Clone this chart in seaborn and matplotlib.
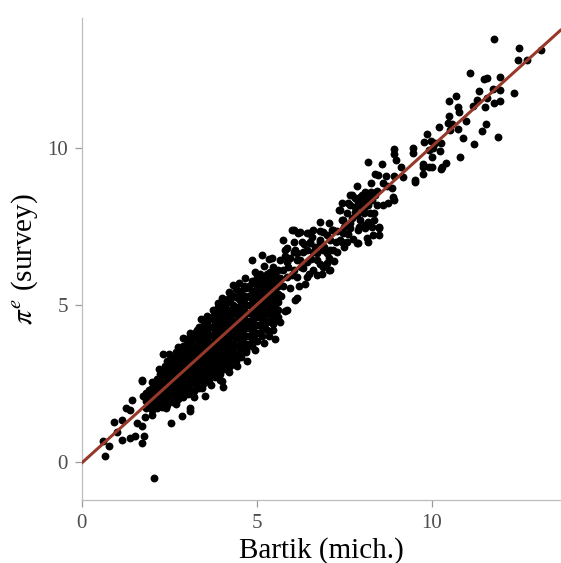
import matplotlib
matplotlib.use("Agg")
import matplotlib.pyplot as plt
import pandas as pd
import seaborn as sns

# points (x = Bartik, y = survey)
low_pts = [
    (2.06, -0.51), (0.67, 0.17), (0.60, 0.65), (0.79, 0.49), (1.16, 0.68), (1.38, 0.77),
    (1.53, 0.83), (1.79, 0.81), (1.73, 0.61), (0.93, 1.27), (1.16, 1.34), (1.00, 0.96),
    (1.59, 1.23), (1.72, 1.15), (1.81, 1.42), (1.27, 1.71), (1.38, 1.66), (1.43, 1.97),
    (1.72, 2.56), (1.76, 2.10), (1.93, 2.19), (1.98, 1.76), (2.10, 1.87), (1.71, 2.61),
    (2.54, 1.25), (2.86, 1.47), (3.08, 1.62), (3.09, 1.70), (3.53, 2.11), (4.02, 2.56),
    (3.95, 2.61), (4.05, 2.39), (2.33, 3.44), (2.76, 3.67), (2.53, 3.14), (2.14, 2.61),
]

edge_pts = [
    (4.73, 3.22), (4.70, 3.57), (5.53, 3.91), (5.67, 4.45), (5.81, 4.82), (6.10, 5.16),
    (6.38, 5.67), (3.27, 4.15), (3.59, 4.63), (4.00, 5.21), (4.33, 5.64), (4.09, 5.16),
    (3.29, 4.20), (3.52, 4.47), (5.86, 4.84), (5.57, 4.52), (5.47, 4.20), (6.14, 5.21),
    # ragged rim of the core
    (2.20, 2.95), (2.50, 3.45), (2.90, 3.95), (3.10, 4.10), (3.40, 4.55), (3.75, 4.85),
    (3.90, 5.05), (4.20, 5.40), (4.50, 5.70), (4.65, 5.85), (4.95, 6.05), (5.20, 6.25),
    (5.35, 6.45), (2.40, 1.70), (2.70, 1.85), (3.20, 2.05), (3.45, 2.35), (3.70, 2.45),
    (4.20, 2.85), (4.45, 3.05), (4.95, 3.55), (5.20, 3.80), (5.35, 4.00), (2.00, 1.50),
]

# dense core, read column by column (two interleaved passes)
core_x = [1.85, 2.0, 2.15, 2.3, 2.45, 2.6, 2.75, 2.9, 3.05, 3.2, 3.35, 3.5, 3.65,
          3.8, 3.95, 4.1, 4.25, 4.4, 4.55, 4.7, 4.85, 5.0, 5.15, 5.3, 5.45, 5.6]
core_y = [
    [1.7, 1.95, 2.2],
    [1.65, 1.9, 2.1, 2.35, 2.55],
    [1.7, 1.95, 2.2, 2.4, 2.65],
    [1.75, 1.95, 2.2, 2.45, 2.65, 2.9],
    [1.8, 2.05, 2.3, 2.5, 2.75, 3.0, 3.2],
    [1.9, 2.15, 2.35, 2.6, 2.85, 3.05, 3.3],
    [2.0, 2.25, 2.5, 2.7, 2.95, 3.2, 3.45],
    [2.05, 2.3, 2.55, 2.8, 3.05, 3.25, 3.5, 3.7],
    [2.15, 2.4, 2.65, 2.9, 3.1, 3.35, 3.6, 3.85],
    [2.25, 2.5, 2.75, 3.0, 3.25, 3.5, 3.7, 3.95],
    [2.35, 2.6, 2.85, 3.1, 3.35, 3.55, 3.8, 4.05, 4.3],
    [2.5, 2.75, 2.95, 3.2, 3.45, 3.7, 3.95, 4.2, 4.45],
    [2.6, 2.85, 3.1, 3.35, 3.55, 3.8, 4.05, 4.3, 4.55],
    [2.7, 2.95, 3.2, 3.45, 3.7, 3.95, 4.2, 4.45, 4.75],
    [2.8, 3.05, 3.3, 3.55, 3.8, 4.05, 4.3, 4.55, 4.85],
    [2.95, 3.2, 3.45, 3.7, 3.95, 4.2, 4.45, 4.7, 5.0],
    [3.05, 3.3, 3.55, 3.8, 4.05, 4.3, 4.55, 4.8, 5.1, 5.35],
    [3.2, 3.45, 3.7, 3.95, 4.2, 4.45, 4.7, 4.95, 5.25, 5.5],
    [3.35, 3.6, 3.85, 4.1, 4.35, 4.6, 4.85, 5.1, 5.4],
    [3.5, 3.75, 4.0, 4.25, 4.5, 4.75, 5.0, 5.25, 5.55],
    [3.7, 3.95, 4.2, 4.45, 4.7, 4.95, 5.2, 5.45, 5.75],
    [3.85, 4.1, 4.35, 4.6, 4.85, 5.1, 5.35, 5.6, 5.9],
    [4.0, 4.3, 4.55, 4.8, 5.05, 5.3, 5.55, 5.85],
    [4.2, 4.45, 4.7, 4.95, 5.2, 5.45, 5.7, 6.0],
    [4.4, 4.65, 4.9, 5.15, 5.4, 5.65, 5.9, 6.2],
    [4.6, 4.85, 5.1, 5.35, 5.6, 5.85, 6.1],
]

core2_x = [1.93, 2.08, 2.23, 2.38, 2.53, 2.68, 2.83, 2.98, 3.13, 3.28, 3.43, 3.58, 3.73,
           3.88, 4.03, 4.18, 4.33, 4.48, 4.63, 4.78, 4.93, 5.08, 5.23, 5.38, 5.53]
core2_y = [
    [1.8, 2.05, 2.3],
    [1.75, 2.0, 2.25, 2.5],
    [1.85, 2.1, 2.3, 2.55, 2.8],
    [1.9, 2.1, 2.35, 2.6, 2.85, 3.05],
    [1.95, 2.2, 2.45, 2.65, 2.9, 3.15],
    [2.05, 2.3, 2.5, 2.75, 3.0, 3.25, 3.5],
    [2.15, 2.4, 2.6, 2.85, 3.1, 3.35, 3.6],
    [2.2, 2.45, 2.7, 2.95, 3.2, 3.45, 3.65, 3.9],
    [2.3, 2.55, 2.8, 3.05, 3.3, 3.5, 3.75, 4.0],
    [2.4, 2.65, 2.9, 3.15, 3.4, 3.65, 3.9, 4.15],
    [2.6, 2.8, 3.05, 3.3, 3.55, 3.8, 4.05, 4.3],
    [2.65, 2.9, 3.15, 3.4, 3.65, 3.9, 4.15, 4.4, 4.65],
    [2.8, 3.05, 3.3, 3.55, 3.8, 4.05, 4.3, 4.6],
    [2.9, 3.15, 3.4, 3.65, 3.9, 4.15, 4.4, 4.65, 4.95],
    [3.05, 3.3, 3.55, 3.8, 4.05, 4.3, 4.55, 4.8, 5.1],
    [3.1, 3.35, 3.6, 3.85, 4.1, 4.35, 4.6, 4.85, 5.2],
    [3.25, 3.5, 3.75, 4.0, 4.25, 4.5, 4.75, 5.0, 5.3],
    [3.4, 3.65, 3.9, 4.15, 4.4, 4.65, 4.9, 5.2, 5.45],
    [3.55, 3.8, 4.05, 4.3, 4.55, 4.8, 5.05, 5.3, 5.6],
    [3.75, 4.0, 4.25, 4.5, 4.75, 5.0, 5.3, 5.6],
    [3.9, 4.15, 4.4, 4.65, 4.9, 5.15, 5.4, 5.7],
    [4.1, 4.35, 4.6, 4.9, 5.15, 5.4, 5.7, 6.0],
    [4.25, 4.5, 4.75, 5.0, 5.3, 5.55, 5.85],
    [4.5, 4.75, 5.0, 5.25, 5.5, 5.8, 6.05],
    [4.7, 4.95, 5.2, 5.45, 5.75, 6.0],
]

mid_pts = [
    (9.51, 8.93), (7.86, 8.79), (8.26, 8.89), (8.10, 8.61), (8.27, 8.61), (8.43, 8.63),
    (8.62, 8.88), (8.71, 8.78), (8.86, 8.72), (8.88, 8.45), (8.91, 8.34), (7.67, 8.50),
    (7.81, 8.40), (7.95, 8.45), (8.10, 8.34), (8.24, 8.45), (7.43, 8.24), (7.62, 8.24),
    (7.81, 8.13), (8.00, 8.13), (8.19, 8.18), (8.62, 8.18), (8.76, 8.26), (7.35, 8.03),
    (7.57, 7.92), (7.86, 7.87), (8.05, 7.92), (8.34, 7.92), (8.34, 7.71), (6.81, 7.65),
    (7.05, 7.62), (7.43, 7.71), (7.48, 7.50), (7.67, 7.60), (7.91, 7.50), (8.10, 7.55),
    (8.48, 7.50), (6.00, 7.39), (6.17, 7.30), (6.48, 7.30), (6.57, 7.18), (6.81, 7.35),
    (7.00, 7.23), (7.14, 7.39), (7.29, 7.35), (5.76, 7.07), (6.29, 7.02), (6.53, 6.96),
    (6.81, 7.02), (6.91, 6.86), (7.38, 7.07), (7.57, 7.02), (7.86, 6.96), (8.14, 7.12),
    (8.19, 7.02), (8.48, 7.23), (8.48, 7.44), (5.86, 6.80), (6.10, 6.75), (6.43, 6.75),
    (6.71, 6.65), (7.00, 6.65), (7.10, 6.75), (4.86, 6.43), (5.14, 6.59), (5.43, 6.49),
    (5.67, 6.43), (5.95, 6.49), (6.24, 6.43), (6.43, 6.38), (6.71, 6.43), (7.05, 6.11),
    (7.71, 8.51), (8.00, 8.51), (8.14, 8.56), (8.38, 8.51), (7.67, 8.19), (7.90, 8.29),
    (8.09, 8.24), (8.29, 8.35), (8.43, 8.19), (7.38, 8.02), (7.81, 7.97), (8.05, 8.08),
    (8.24, 7.92), (7.47, 7.71), (7.71, 7.76), (7.95, 7.71), (8.19, 7.66), (6.05, 7.39),
    (6.24, 7.34), (6.43, 7.29), (6.62, 7.39), (6.90, 7.34), (7.19, 7.39), (7.47, 7.29),
    (7.67, 7.44), (7.90, 7.39), (8.09, 7.44), (8.29, 7.50), (8.33, 7.23), (6.05, 7.02),
    (6.52, 7.02), (6.81, 7.07), (7.09, 7.07), (7.43, 7.02), (7.90, 6.97), (5.81, 6.75),
    (6.05, 6.70), (6.33, 6.70), (6.62, 6.70), (6.90, 6.75), (7.19, 6.75), (5.86, 6.38),
    (6.14, 6.43), (7.05, 6.49), (5.76, 6.11), (6.05, 6.11), (6.33, 6.17), (6.62, 6.11),
    (6.90, 6.22), (7.09, 6.11), (5.86, 5.90), (6.14, 5.90), (6.43, 5.90), (6.71, 5.96),
    (5.70, 5.30), (5.75, 5.60), (5.95, 5.55), (6.00, 5.95), (6.20, 5.60), (6.25, 6.20),
    (6.50, 6.00), (6.55, 6.45), (6.80, 6.30), (6.85, 6.00), (7.00, 6.35), (7.20, 6.40),
    (7.25, 7.00), (7.30, 6.70), (7.50, 6.85), (7.60, 7.25), (7.75, 7.10), (6.35, 6.95),
    (6.65, 6.85), (5.90, 6.20), (6.15, 6.65), (5.65, 5.85), (5.80, 6.55),
]

high_pts = [
    (11.79, 13.49), (12.49, 13.18), (13.11, 13.12), (12.47, 12.81), (12.72, 12.81),
    (11.08, 12.40), (11.50, 12.20), (11.59, 12.24), (11.96, 12.27), (11.34, 11.83),
    (11.74, 11.88), (11.95, 11.86), (12.34, 11.75), (11.30, 11.55), (11.57, 11.61),
    (10.69, 11.65), (10.49, 11.50), (11.79, 11.44), (11.95, 11.49), (11.19, 11.35),
    (11.51, 11.31), (10.75, 11.30), (10.78, 11.16), (10.49, 11.03), (10.46, 10.81),
    (10.57, 10.77), (10.98, 10.87), (10.20, 10.68), (11.56, 10.76), (11.42, 10.54),
    (10.75, 10.61), (10.53, 10.57), (9.85, 10.44), (11.88, 10.34), (10.88, 10.33),
    (9.79, 10.20), (9.98, 10.23), (10.10, 10.17), (10.26, 10.17), (11.20, 10.12),
    (8.92, 9.96), (8.93, 9.81), (9.47, 9.99), (9.46, 9.85), (9.91, 9.94), (10.04, 9.99),
    (10.24, 9.90), (10.00, 9.72), (10.80, 9.72), (8.99, 9.62), (9.76, 9.51), (9.76, 9.40),
    (9.91, 9.40), (10.00, 9.40), (10.30, 9.40), (10.41, 9.53), (10.25, 9.33), (8.18, 9.56),
    (8.57, 9.49), (9.13, 9.40), (8.38, 9.18), (8.47, 9.15), (8.70, 9.11), (8.92, 9.11),
    (9.19, 9.09), (9.75, 9.17), (9.53, 9.00),
]

# fitted line
fit_intercept = -0.04
fit_slope = 1.009

rows = low_pts + edge_pts + mid_pts + high_pts
for cx, ys in list(zip(core_x, core_y)) + list(zip(core2_x, core2_y)):
    rows += [(cx, y) for y in ys]
df = pd.DataFrame(rows, columns=["bartik", "survey"])

sns.set_style("white")
plt.rcParams["font.family"] = ["Liberation Serif", "DejaVu Serif"]
plt.rcParams["mathtext.fontset"] = "stix"

fig = plt.figure(figsize=(5.61, 5.63), dpi=100)
ax = fig.add_axes([81.7 / 561, 63 / 563, 1 - 81.7 / 561, (500 - 18) / 563])

sns.scatterplot(data=df, x="bartik", y="survey", ax=ax, color="black",
                s=32, linewidth=0, zorder=2)
ax.axline((0, fit_intercept), slope=fit_slope, color="#96392a", lw=2.2, zorder=3)

ax.set_xlim(0, 13.69)
ax.set_ylim(-1.22, 14.15)
ax.set_xticks([0, 5, 10])
ax.set_yticks([0, 5, 10])

for side in ["top", "right"]:
    ax.spines[side].set_visible(False)
for side in ["left", "bottom"]:
    ax.spines[side].set_color("#bdbdbd")
    ax.spines[side].set_linewidth(0.9)

ax.tick_params(axis="both", which="major", length=5, width=0.9, color="#9a9a9a",
               labelsize=15, labelcolor="#4d4d4d", pad=5, left=True, bottom=True)

ax.set_xlabel("Bartik (mich.)", fontsize=21, color="black", labelpad=3)
ax.set_ylabel(r"$\pi^e$ (survey)", fontsize=21, color="black", labelpad=5)

fig.savefig("out.png", dpi=100)
